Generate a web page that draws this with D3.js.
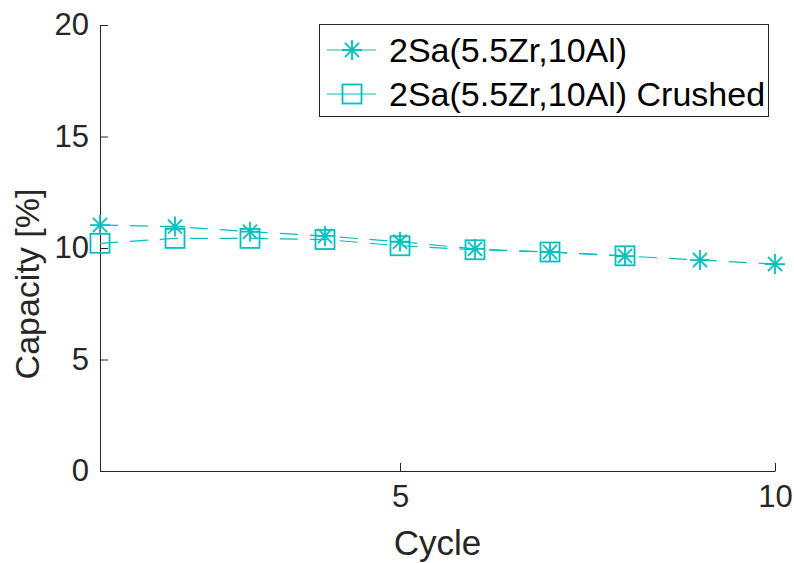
<!DOCTYPE html>
<html>
<head>
<meta charset="utf-8">
<script src="https://cdn.jsdelivr.net/npm/d3@7"></script>
<style>
  html, body { margin: 0; padding: 0; background: #fff; }
  svg { display: block; font-family: "Liberation Sans", Arial, Helvetica, sans-serif; }
</style>
</head>
<body>
<svg id="chart" width="794" height="563"></svg>
<script>
// Capacity per cycle for the two samples
const cycles = [1, 2, 3, 4, 5, 6, 7, 8, 9, 10];
const capacity = [11.03, 10.96, 10.73, 10.54, 10.28, 9.96, 9.82, 9.64, 9.46, 9.28];
const crushedCycles = [1, 2, 3, 4, 5, 6, 7, 8];
const crushedCapacity = [10.21, 10.43, 10.43, 10.38, 10.10, 9.92, 9.82, 9.65];

const seriesNames = ["2Sa(5.5Zr,10Al)", "2Sa(5.5Zr,10Al) Crushed"];
const xTicks = [5, 10];
const yTicks = [0, 5, 10, 15, 20];

const color = "#00bfbf";
const axisColor = "#262626";

const svg = d3.select("#chart");
const plotLeft = 100, plotRight = 775, plotTop = 25, plotBottom = 471;

const x = d3.scaleLinear().domain([1, 10]).range([plotLeft, plotRight]);
const y = d3.scaleLinear().domain([0, 20]).range([plotBottom, plotTop]);

// Axes (ticks point inward)
const yAxis = svg.append("g")
  .attr("transform", `translate(${plotLeft},0)`)
  .call(d3.axisLeft(y).tickValues(yTicks).tickSizeInner(-8).tickSizeOuter(0).tickPadding(11));
const xAxis = svg.append("g")
  .attr("transform", `translate(0,${plotBottom})`)
  .call(d3.axisBottom(x).tickValues(xTicks).tickSizeInner(-8).tickSizeOuter(0).tickPadding(14));

[yAxis, xAxis].forEach(g => {
  g.select(".domain").attr("stroke", axisColor).attr("stroke-width", 1);
  g.selectAll(".tick line").attr("stroke", axisColor).attr("stroke-width", 1);
  g.selectAll(".tick text")
    .attr("fill", axisColor)
    .style("font-size", "31px")
    .style("font-family", "'Liberation Sans', Arial, sans-serif");
});

// Axis labels
svg.append("text")
  .attr("x", (plotLeft + plotRight) / 2)
  .attr("y", 555)
  .attr("text-anchor", "middle")
  .attr("fill", axisColor)
  .style("font-size", "35px")
  .text("Cycle");
svg.append("text")
  .attr("transform", `translate(39,284) rotate(-90)`)
  .attr("text-anchor", "middle")
  .attr("fill", axisColor)
  .style("font-size", "34px")
  .text("Capacity [%]");

// Marker drawers
function star(g, cx, cy, r) {
  const d = r * Math.SQRT1_2;
  const path = `M${cx - r},${cy}L${cx + r},${cy}M${cx},${cy - r}L${cx},${cy + r}` +
    `M${cx - d},${cy - d}L${cx + d},${cy + d}M${cx - d},${cy + d}L${cx + d},${cy - d}`;
  g.append("path").attr("d", path).attr("stroke", color).attr("stroke-width", 1.8).attr("fill", "none");
}
function square(g, cx, cy, h) {
  g.append("rect").attr("x", cx - h).attr("y", cy - h).attr("width", 2 * h).attr("height", 2 * h)
    .attr("stroke", color).attr("stroke-width", 1.8).attr("fill", "none");
}

const line = d3.line().x(d => x(d[0])).y(d => y(d[1]));
const plot = svg.append("g");

const s1 = d3.zip(cycles, capacity);
const s2 = d3.zip(crushedCycles, crushedCapacity);

plot.append("path").datum(s1).attr("d", line)
  .attr("fill", "none").attr("stroke", color).attr("stroke-width", 1.2).attr("stroke-dasharray", "18,12");
plot.append("path").datum(s2).attr("d", line)
  .attr("fill", "none").attr("stroke", color).attr("stroke-width", 1.2).attr("stroke-dasharray", "18,12");

s1.forEach(d => star(plot, x(d[0]), y(d[1]), 10));
s2.forEach(d => square(plot, x(d[0]), y(d[1]), 9.5));

// Legend
const legend = svg.append("g");
legend.append("rect").attr("x", 319.5).attr("y", 24.5).attr("width", 449).attr("height", 92)
  .attr("fill", "#fff").attr("stroke", axisColor).attr("stroke-width", 1);
const rows = [50, 94];
rows.forEach((ry, i) => {
  legend.append("line").attr("x1", 327).attr("x2", 376).attr("y1", ry).attr("y2", ry)
    .attr("stroke", color).attr("stroke-width", 1.2);
  if (i === 0) star(legend, 352, ry, 10); else square(legend, 352, ry, 9.5);
  legend.append("text").attr("x", 389).attr("y", ry + 12)
    .attr("fill", "#000").style("font-size", "34px").text(seriesNames[i]);
});
</script>
</body>
</html>
